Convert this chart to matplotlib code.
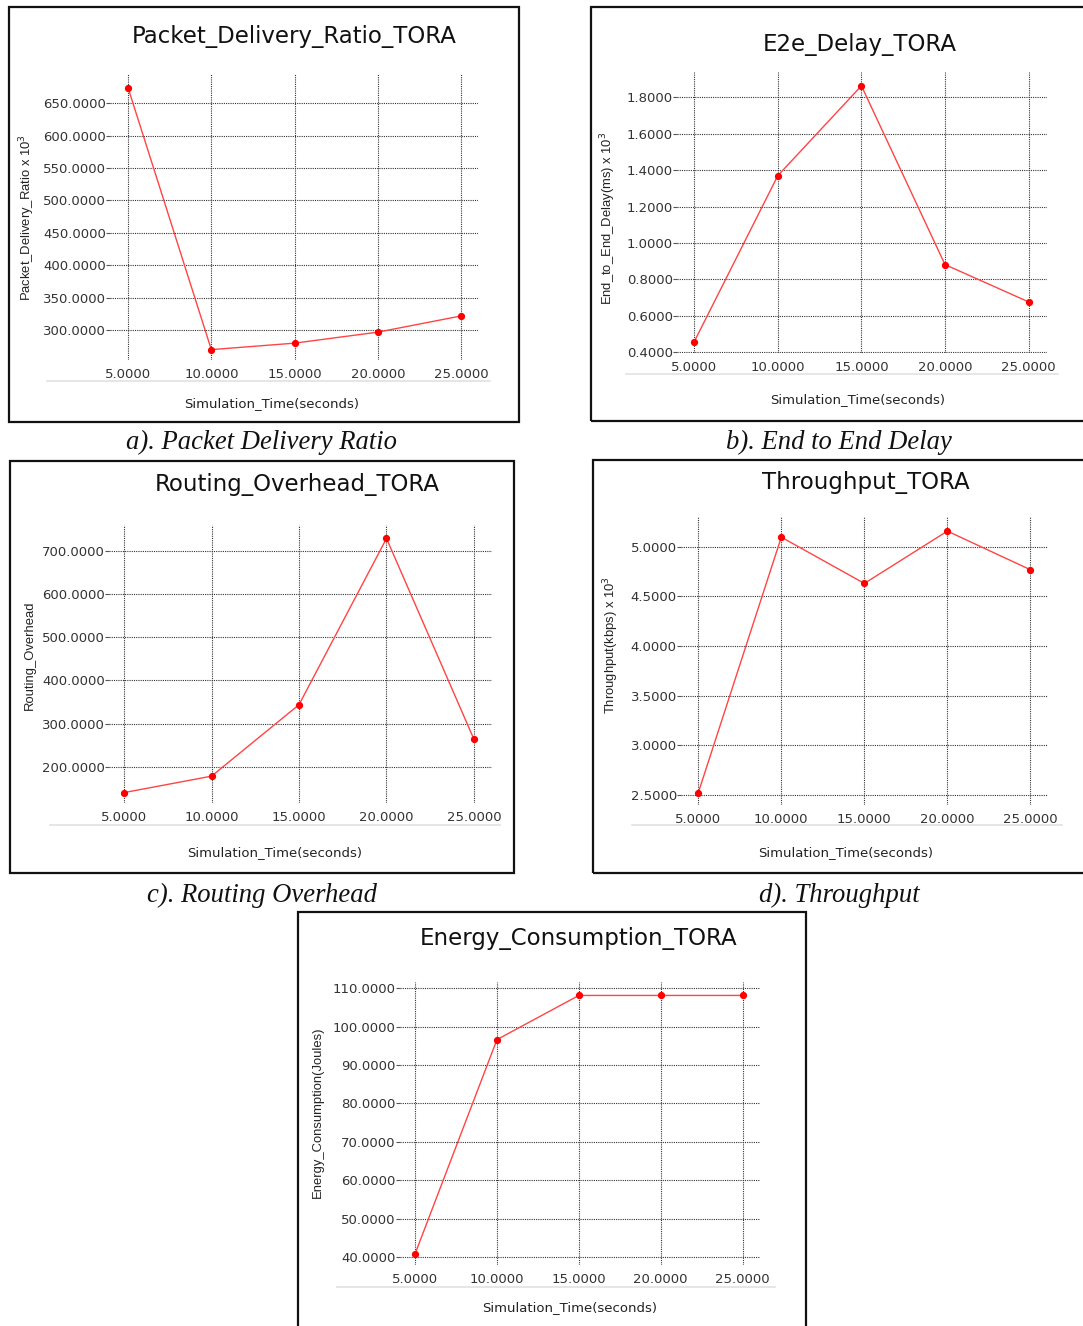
import numpy as np
import matplotlib
matplotlib.use("Agg")
import matplotlib.pyplot as plt
from matplotlib.patches import Rectangle
from matplotlib.lines import Line2D

# data
sim_time = [5, 10, 15, 20, 25]
pdr = [674, 270, 280, 297, 322]
e2e_delay = [0.457, 1.370, 1.864, 0.881, 0.676]
routing_overhead = [141, 179, 344, 728, 264]
throughput = [2.523, 5.097, 4.631, 5.158, 4.769]
energy = [40.8, 96.6, 108.1, 108.1, 108.1]

W, H = 1083, 1326
fig = plt.figure(figsize=(W / 100, H / 100), dpi=100)

SANS = ["DejaVu Sans"]
NARROW = ["Liberation Sans Narrow", "Liberation Sans", "DejaVu Sans"]
SERIF = ["Liberation Serif", "DejaVu Serif"]


def fx(px):
    return px / W


def fy(py):
    return 1 - py / H


def panel(box, axrect, xlim, ylim, yticks, y, title, title_xy, ylabel, ylabel_xy,
          xlabel_xy, base):
    # outer frame
    bx0, by0, bx1, by1 = box
    fig.patches.append(Rectangle((fx(bx0), fy(by1)), fx(bx1 - bx0), (by1 - by0) / H,
                                 transform=fig.transFigure, fill=False,
                                 edgecolor="#111111", linewidth=1.6, clip_on=False))
    l, t, r, b = axrect
    ax = fig.add_axes([fx(l), fy(b), fx(r - l), (b - t) / H])
    ax.plot(sim_time, y, color="#ff4444", linewidth=1.0, zorder=3)
    ax.plot(sim_time, y, "o", color="#ff0000", markersize=4.2, zorder=4)
    ax.set_xlim(*xlim)
    ax.set_ylim(*ylim)
    ax.set_xticks(sim_time)
    ax.set_xticklabels(["%.4f" % v for v in sim_time])
    ax.set_yticks(yticks)
    ax.set_yticklabels(["%.4f" % v for v in yticks])
    ax.grid(True, color="#333333", linestyle=(0, (1, 1)), linewidth=0.8)
    ax.set_axisbelow(True)
    for s in ax.spines.values():
        s.set_visible(False)
    ax.tick_params(axis="y", length=3, width=0.8, color="#555555", pad=0,
                   labelsize=9.5, labelcolor="#333333")
    ax.tick_params(axis="x", length=0, pad=6, labelsize=9.5, labelcolor="#333333")
    for lab in ax.get_xticklabels() + ax.get_yticklabels():
        lab.set_family(SANS)
    fig.text(fx(title_xy[0]), fy(title_xy[1]), title, ha="center", va="center",
             fontsize=16.5, family=SANS, color="#111111")
    fig.text(fx(ylabel_xy[0]), fy(ylabel_xy[1]), ylabel, ha="center", va="center",
             rotation=90, fontsize=9.4, family=NARROW, color="#222222")
    fig.text(fx(xlabel_xy[0]), fy(xlabel_xy[1]), "Simulation_Time(seconds)",
             ha="center", va="center", fontsize=9.5, family=SANS, color="#222222")
    # faint base line under the tick labels
    bl, br, byy = base
    fig.lines.append(Line2D([fx(bl), fx(br)], [fy(byy), fy(byy)],
                            transform=fig.transFigure, color="#e2e2e2", linewidth=1.2))
    return ax


panel((9, 7, 519, 422), (110, 74, 478, 360), (3.92, 26.0), (254, 695),
      np.arange(300, 651, 50), pdr, "Packet_Delivery_Ratio_TORA", (294, 36),
      r"Packet_Delivery_Ratio x 10$^3$", (27, 218), (272, 404), (47, 490, 381))

panel((591, 7, 1090, 421), (677, 72, 1047, 353), (3.97, 26.1), (0.395, 1.94),
      np.arange(0.4, 1.81, 0.2), e2e_delay, "E2e_Delay_TORA", (860, 45),
      r"End_to_End_Delay(ms) x 10$^3$", (608, 218), (858, 400), (626, 1058, 374))

panel((10, 461, 514, 873), (109, 525, 492, 803), (4.14, 26.03), (117, 759),
      np.arange(200, 701, 100), routing_overhead, "Routing_Overhead_TORA", (297, 484),
      "Routing_Overhead", (30, 655), (275, 853), (50, 500, 825))

panel((593, 460, 1090, 873), (681, 517, 1048, 805), (3.96, 26.06), (2.40, 5.30),
      np.arange(2.5, 5.01, 0.5), throughput, "Throughput_TORA", (866, 483),
      r"Throughput(kbps) x 10$^3$", (611, 645), (846, 853), (632, 1062, 825))

panel((298, 912, 806, 1340), (400, 982, 760, 1265), (4.08, 26.06), (37.9, 111.6),
      np.arange(40, 111, 10), energy, "Energy_Consumption_TORA", (579, 939),
      "Energy_Consumption(Joules)", (318, 1112), (570, 1308), (337, 775, 1287))

captions = [("a). Packet Delivery Ratio", 262, 442), ("b). End to End Delay", 839, 442),
            ("c). Routing Overhead", 262, 895), ("d). Throughput", 839, 895)]
for txt, cx, cy in captions:
    fig.text(fx(cx), fy(cy), txt, ha="center", va="center", fontsize=19.2,
             family=SERIF, style="italic", color="#111111")

fig.savefig("out.png", dpi=100)
